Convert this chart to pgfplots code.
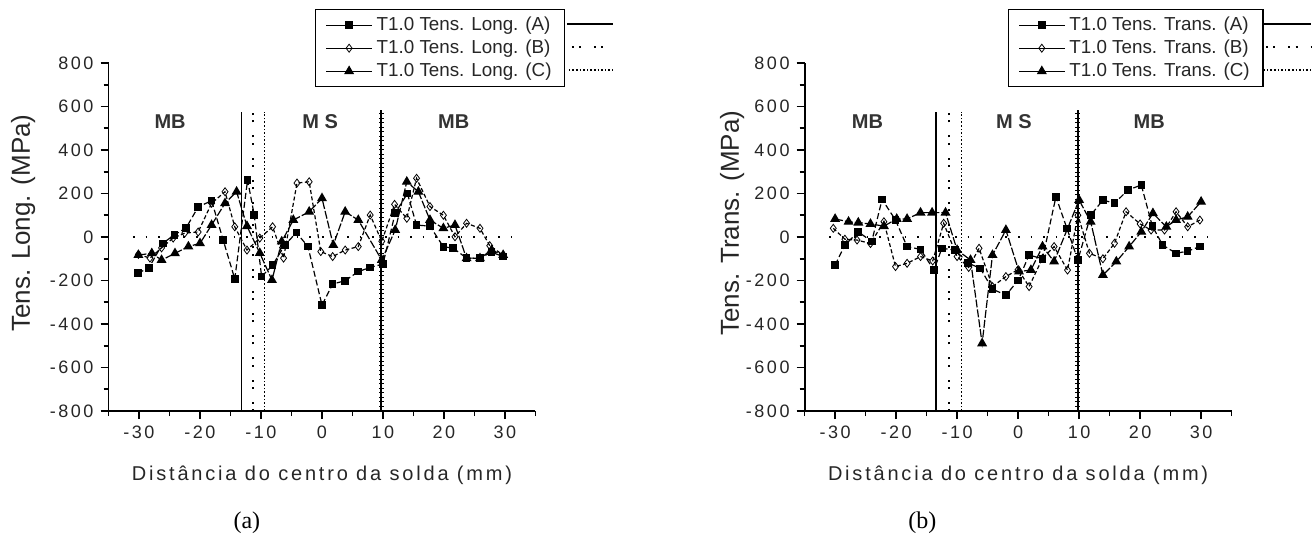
\documentclass[border=0pt]{standalone}
\usepackage{fontspec}
\setmainfont{Liberation Sans}
\newfontfamily\tickfont[LetterSpace=14]{Liberation Sans}
\newfontfamily\labfont[LetterSpace=14]{Liberation Sans}
\newfontfamily\capfont{Liberation Serif}
\usepackage{pgfplots}
\pgfplotsset{compat=1.18}

\tikzset{zone/.style={font=\bfseries\fontsize{10}{11}\selectfont, text=black!80}}

\pgfplotsset{
  weld/.style={
    scale only axis, width=213.5pt, height=174pt,
    xmin=-35, xmax=35, ymin=-800, ymax=800,
    axis x line*=bottom, axis y line*=left,
    x axis line style={-}, y axis line style={-},
    axis line style={line width=0.9pt},
    tick pos=left, tick align=outside,
    major tick length=4pt, minor tick length=2.5pt,
    tick style={black, line width=0.8pt},
    xtick={-30,-20,...,30}, xticklabels={-30,-20,-10,0,10,20,30},
    minor xtick={-35,-25,...,35},
    ytick={-800,-600,...,800},
    yticklabels={-800,-600,-400,-200,0,200,400,600,800},
    minor ytick={-700,-500,...,700},
    tick label style={font=\tickfont\fontsize{9}{10}\selectfont, text=black!85},
    xlabel={Distância do centro da solda (mm)},
    xlabel style={font=\labfont\fontsize{10}{12}\selectfont, text=black!85,
      at={(axis description cs:0.5,-0.184)}, anchor=center},
    ylabel style={font=\fontsize{13}{15}\selectfont, text=black!85, anchor=center},
    clip=false,
    legend cell align=left,
    legend image code/.code={\draw[solid,mark repeat=2,mark phase=2] plot coordinates {(0cm,0cm) (0.4cm,0cm) (0.8cm,0cm)};},
    legend style={anchor=north west, draw=black, line width=0.6pt,
      font=\fontsize{9.4}{10}\selectfont, text=black!85,
      inner xsep=5pt, inner ysep=2pt, row sep=0pt, column sep=0.5pt,
      nodes={inner sep=1.6pt}},
  },
  serA/.style={black, line width=0.6pt, dash pattern=on 3pt off 1.5pt,
    mark=square*, mark size=1.6pt, mark options={solid}},
  serB/.style={black, line width=0.6pt, dash pattern=on 2pt off 1.2pt,
    mark=diamond, mark size=2pt, mark options={solid, fill=white, line width=0.4pt}},
  serC/.style={black, line width=0.6pt, dash pattern=on 4pt off 1pt,
    mark=triangle*, mark size=2.3pt, mark options={solid}},
}

\begin{document}
\begin{tikzpicture}
\useasboundingbox (0,0) rectangle (657.5pt,268pt);

% ---------------- (a) longitudinal
\begin{axis}[weld, at={(54.25pt,62.5pt)}, anchor=south west,
  ylabel={Tens. Long. (MPa)},
  ylabel style={at={(axis description cs:-0.2,0.54)}},
  legend style={at={(axis description cs:0.484,1.155)}}]

\addplot[forget plot, line width=0.8pt, dash pattern=on 0.8pt off 5.5pt] coordinates {(-31,0) (31,0)};
\addplot[forget plot, line width=0.8pt] coordinates {(-13.2,-800) (-13.2,575)};
\addplot[forget plot, line width=1pt, dash pattern=on 1pt off 2.6pt on 1pt off 6.5pt] coordinates {(-11.3,-800) (-11.3,575)};
\addplot[forget plot, line width=0.8pt, dash pattern=on 0.8pt off 1pt] coordinates {(-9.4,-800) (-9.4,575)};
\addplot[forget plot, line width=0.9pt] coordinates {(9.7,-800) (9.7,585)};
\addplot[forget plot, line width=2.4pt, dash pattern=on 0.45pt off 1.8pt] coordinates {(9.7,-800) (9.7,585)};

\addplot[serA] coordinates {
 (-30.2,-166) (-28.4,-143) (-26.1,-29) (-24.2,10) (-22.3,41) (-20.3,138)
 (-18.1,167) (-16.2,-14) (-14.3,-193) (-12.2,262) (-11.1,100) (-9.9,-182)
 (-8.1,-130) (-6.1,-37) (-4.2,20) (-2.3,-44) (0,-313) (1.75,-216)
 (3.8,-201) (5.95,-159) (7.9,-140) (10,-124) (12,110) (14,200)
 (15.5,55) (17.7,50) (19.9,-45) (21.5,-51) (23.7,-97) (25.9,-97)
 (27.8,-70) (29.7,-90)
};
\addlegendentry{T1.0 Tens. Long. (A)}

\addplot[serB] coordinates {
 (-30.1,-80) (-28.2,-97) (-26.3,-50) (-24.4,-5) (-22.5,18) (-20.3,23)
 (-18.1,155) (-15.9,208) (-14.3,47) (-12.3,-60) (-10.2,-5) (-8.1,47)
 (-6.3,-97) (-4.1,248) (-2.1,254) (-0.2,-67) (1.75,-90) (3.8,-60)
 (5.95,-44) (7.9,101) (9.8,-20) (11.9,150) (13.9,86) (15.5,270)
 (17.7,140) (19.9,100) (21.8,1) (23.7,63) (25.9,40) (27.5,-40)
 (29.7,-83)
};
\addlegendentry{T1.0 Tens. Long. (B)}

\addplot[serC] coordinates {
 (-30.1,-83) (-27.9,-75) (-26.3,-106) (-24.1,-75) (-21.9,-44) (-20,-29)
 (-18.1,55) (-15.9,155) (-14,208) (-12.3,50) (-10.2,-74) (-8.2,-198)
 (-6.6,-21) (-4.7,78) (-2.1,116) (0,178) (1.85,-37) (3.8,116)
 (5.95,78) (9.8,-106) (12,32) (13.9,254) (15.8,208) (17.7,78)
 (19.9,40) (21.8,55) (23.7,-98) (25.9,-98) (27.8,-60) (29.7,-83)
};
\addlegendentry{T1.0 Tens. Long. (C)}

\node[zone] at (axis cs:-24.9,530) {MB};
\node[zone] at (axis cs:-0.3,530) {M S};
\node[zone] at (axis cs:21.6,530) {MB};
\draw[line width=0.9pt] (axis description cs:1.074,1.112) -- (axis description cs:1.181,1.112);
\draw[line width=1pt, dash pattern=on 1pt off 2.6pt on 1pt off 6.5pt] (axis description cs:1.085,1.046) -- (axis description cs:1.181,1.046);
\draw[line width=0.8pt, dash pattern=on 0.8pt off 1pt] (axis description cs:1.078,0.980) -- (axis description cs:1.181,0.980);
\node[font=\capfont\fontsize{12}{14}\selectfont] at (axis description cs:0.324,-0.322) {(a)};
\end{axis}

% ---------------- (b) transversal
\begin{axis}[weld, at={(402.3pt,62.5pt)}, anchor=south west,
  ylabel={Tens. Trans. (MPa)},
  ylabel style={at={(axis description cs:-0.17,0.54)}},
  legend style={at={(axis description cs:0.476,1.155)}}]

\addplot[forget plot, line width=0.8pt, dash pattern=on 0.8pt off 5.5pt] coordinates {(-31,0) (31,0)};
\addplot[forget plot, line width=0.8pt] coordinates {(-13.5,-800) (-13.5,575)};
\addplot[forget plot, line width=1pt, dash pattern=on 1pt off 2.6pt on 1pt off 6.5pt] coordinates {(-11.4,-800) (-11.4,575)};
\addplot[forget plot, line width=0.8pt, dash pattern=on 0.8pt off 1pt] coordinates {(-9.3,-800) (-9.3,575)};
\addplot[forget plot, line width=0.9pt] coordinates {(9.8,-800) (9.8,585)};
\addplot[forget plot, line width=2.4pt, dash pattern=on 0.45pt off 1.8pt] coordinates {(9.8,-800) (9.8,585)};

\addplot[serA] coordinates {
 (-30,-129) (-28.4,-37) (-26.2,24) (-24,-21) (-22.3,173) (-20.1,78)
 (-18.2,-44) (-16,-57) (-13.8,-152) (-12.5,-52) (-10.3,-60) (-8.2,-120)
 (-6.2,-144) (-4.2,-240) (-2,-267) (0,-200) (1.8,-83) (4,-100)
 (6.2,185) (8,40) (9.8,-106) (11.9,100) (13.9,170) (15.8,155)
 (18,216) (20.2,239) (22,50) (23.7,-37) (25.9,-75) (27.8,-65)
 (29.8,-44)
};
\addlegendentry{T1.0 Tens. Trans. (A)}

\addplot[serB] coordinates {
 (-30.3,40) (-28.4,-10) (-26.4,-14) (-24.2,-30) (-22,70) (-20.1,-136)
 (-18.2,-121) (-16,-90) (-14,-110) (-12.2,63) (-10,-90) (-8.1,-140)
 (-6.4,-52) (-4.2,-228) (-2,-182) (0,-150) (1.8,-228) (4,-98)
 (5.9,-44) (8.1,-152) (9.8,100) (11.7,-75) (13.9,-100) (15.8,-29)
 (17.7,116) (20,60) (21.8,32) (24,32) (25.9,116) (27.8,47)
 (29.8,78)
};
\addlegendentry{T1.0 Tens. Trans. (B)}

\addplot[serC] coordinates {
 (-30,83) (-27.8,70) (-26.2,66) (-24.2,60) (-22,50) (-19.9,83)
 (-18.2,83) (-16,112) (-14.1,112) (-11.9,112) (-10,-60) (-7.8,-106)
 (-5.9,-489) (-4.2,-83) (-2,32) (0.15,-159) (2.1,-152) (4,-44)
 (5.9,-113) (10,170) (11.9,70) (13.9,-175) (16.1,-113) (18.2,-44)
 (20.2,24) (22.1,109) (24.3,47) (25.9,78) (27.8,93) (30,162)
};
\addlegendentry{T1.0 Tens. Trans. (C)}

\node[zone] at (axis cs:-24.7,530) {MB};
\node[zone] at (axis cs:-0.7,530) {M S};
\node[zone] at (axis cs:21.5,530) {MB};
\draw[line width=0.9pt] (axis description cs:1.070,1.112) -- (axis description cs:1.187,1.112);
\draw[line width=1pt, dash pattern=on 1pt off 2.6pt on 1pt off 6.5pt] (axis description cs:1.081,1.046) -- (axis description cs:1.187,1.046);
\draw[line width=0.8pt, dash pattern=on 0.8pt off 1pt] (axis description cs:1.074,0.980) -- (axis description cs:1.187,0.980);
\node[font=\capfont\fontsize{12}{14}\selectfont] at (axis description cs:0.276,-0.322) {(b)};
\end{axis}
\end{tikzpicture}
\end{document}
